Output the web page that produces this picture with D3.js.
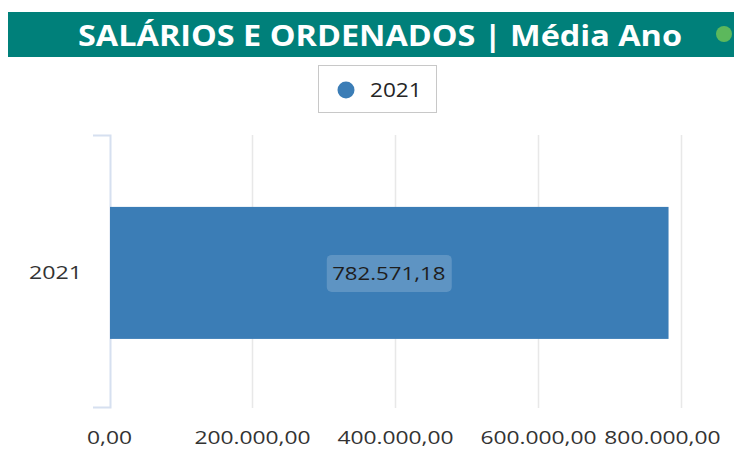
<!DOCTYPE html>
<html>
<head>
<meta charset="utf-8">
<script src="https://cdn.jsdelivr.net/npm/d3@7"></script>
<style>
  body { margin: 0; background: #fff; }
  svg { display: block; font-family: "Open Sans", "DejaVu Sans", sans-serif; }
</style>
</head>
<body>
<svg width="734" height="473"></svg>
<script>
// data
var categories = ['2021'];
var values = [782571.18];
var seriesName = '2021';
var xTicks = [0, 200000, 400000, 600000, 800000];

var width = 734, height = 473;
var margin = {top: 135, bottom: 65, left: 109, right: 53};
var barColor = '#3b7db6';
var font = '"Open Sans", "DejaVu Sans", sans-serif';

var ptBR = d3.formatLocale({decimal: ',', thousands: '.', grouping: [3], currency: ['R$', '']});
var fmt = ptBR.format(',.2f');

// stretch text a bit so it reads as wide as the original
function widen(sel, k) {
  sel.each(function () {
    var w = this.getComputedTextLength();
    d3.select(this).attr('textLength', w * k).attr('lengthAdjust', 'spacingAndGlyphs');
  });
}

var svg = d3.select('svg');

// title bar
svg.append('rect')
  .attr('x', 8).attr('y', 12)
  .attr('width', width - 8).attr('height', 45)
  .attr('fill', '#00807a');
svg.append('text')
  .attr('x', 380).attr('y', 46)
  .attr('text-anchor', 'middle')
  .attr('fill', '#fff')
  .attr('font-size', 28)
  .attr('font-weight', 'bold')
  .attr('textLength', 604)
  .attr('lengthAdjust', 'spacingAndGlyphs')
  .text('SALÁRIOS E ORDENADOS | Média Ano');
svg.append('circle')
  .attr('cx', 724).attr('cy', 34).attr('r', 8)
  .attr('fill', '#5cb85c');

// legend
var legend = svg.append('g');
legend.append('rect')
  .attr('x', 318.5).attr('y', 65.5)
  .attr('width', 118).attr('height', 47)
  .attr('fill', '#fff')
  .attr('stroke', '#c8c8c8');
legend.append('circle')
  .attr('cx', 346).attr('cy', 90).attr('r', 8.5)
  .attr('fill', barColor);
legend.append('text')
  .attr('x', 370).attr('y', 97)
  .attr('font-size', 20)
  .attr('fill', '#252525')
  .text(seriesName)
  .call(widen, 1.13);

var x = d3.scaleLinear()
  .domain([0, 800000])
  .range([margin.left, 681]);

var y = d3.scaleBand()
  .domain(categories)
  .range([margin.top, height - margin.bottom])
  .paddingInner(0)
  .paddingOuter(0.534)
  .align(0.51);

// gridlines
svg.append('g')
  .selectAll('line')
  .data(xTicks.slice(1))
  .enter().append('line')
  .attr('x1', function (d) { return x(d) + 0.5; })
  .attr('x2', function (d) { return x(d) + 0.5; })
  .attr('y1', margin.top)
  .attr('y2', height - margin.bottom)
  .attr('stroke', '#e8e8e8')
  .attr('stroke-width', 1.5);

// y axis bracket
var yAxis = d3.axisLeft(y).tickSize(0).tickPadding(28);
var gy = svg.append('g')
  .attr('transform', 'translate(' + (margin.left + 1) + ',0)')
  .call(yAxis)
  .attr('font-family', font);
gy.select('.domain').remove();
gy.selectAll('text')
  .attr('font-size', 19)
  .attr('fill', '#333')
  .call(widen, 1.22);
gy.append('path')
  .attr('d', 'M-17,' + (margin.top + 0.5) + 'H0.5V' + (height - margin.bottom - 0.5) + 'H-17')
  .attr('fill', 'none')
  .attr('stroke', '#d6e0f0')
  .attr('stroke-width', 2);

// x axis labels
var xAxis = d3.axisBottom(x).tickValues(xTicks).tickFormat(fmt).tickSize(0).tickPadding(23);
var gx = svg.append('g')
  .attr('transform', 'translate(0,' + (height - margin.bottom) + ')')
  .call(xAxis)
  .attr('font-family', font);
gx.select('.domain').remove();
gx.selectAll('text')
  .attr('font-size', 19)
  .attr('fill', '#333')
  .call(widen, 1.2);
// keep the last label inside the card, like the original
gx.selectAll('.tick text')
  .filter(function (d) { return d === xTicks[xTicks.length - 1]; })
  .each(function () {
    var half = this.getComputedTextLength() / 2;
    var over = x(xTicks[xTicks.length - 1]) + half - 720;
    if (over > 0) d3.select(this).attr('x', -over);
  });

// bars
svg.append('g')
  .selectAll('rect')
  .data(values)
  .enter().append('rect')
  .attr('x', x(0) + 1)
  .attr('y', function (d, i) { return y(categories[i]); })
  .attr('width', function (d) { return x(d) - x(0) - 1; })
  .attr('height', y.bandwidth())
  .attr('fill', barColor);

// data labels
var labels = svg.append('g')
  .selectAll('g')
  .data(values)
  .enter().append('g')
  .attr('transform', function (d, i) {
    return 'translate(' + ((x(0) + x(d)) / 2) + ',' + (y(categories[i]) + y.bandwidth() / 2) + ')';
  });
labels.append('rect')
  .attr('x', -62).attr('y', -18)
  .attr('width', 125).attr('height', 37)
  .attr('rx', 5)
  .attr('fill', '#fff')
  .attr('fill-opacity', 0.18);
labels.append('text')
  .attr('text-anchor', 'middle')
  .attr('dy', '0.35em')
  .attr('font-size', 19)
  .attr('fill', '#1e1e1e')
  .text(function (d) { return fmt(d); })
  .call(widen, 1.17);
</script>
</body>
</html>
